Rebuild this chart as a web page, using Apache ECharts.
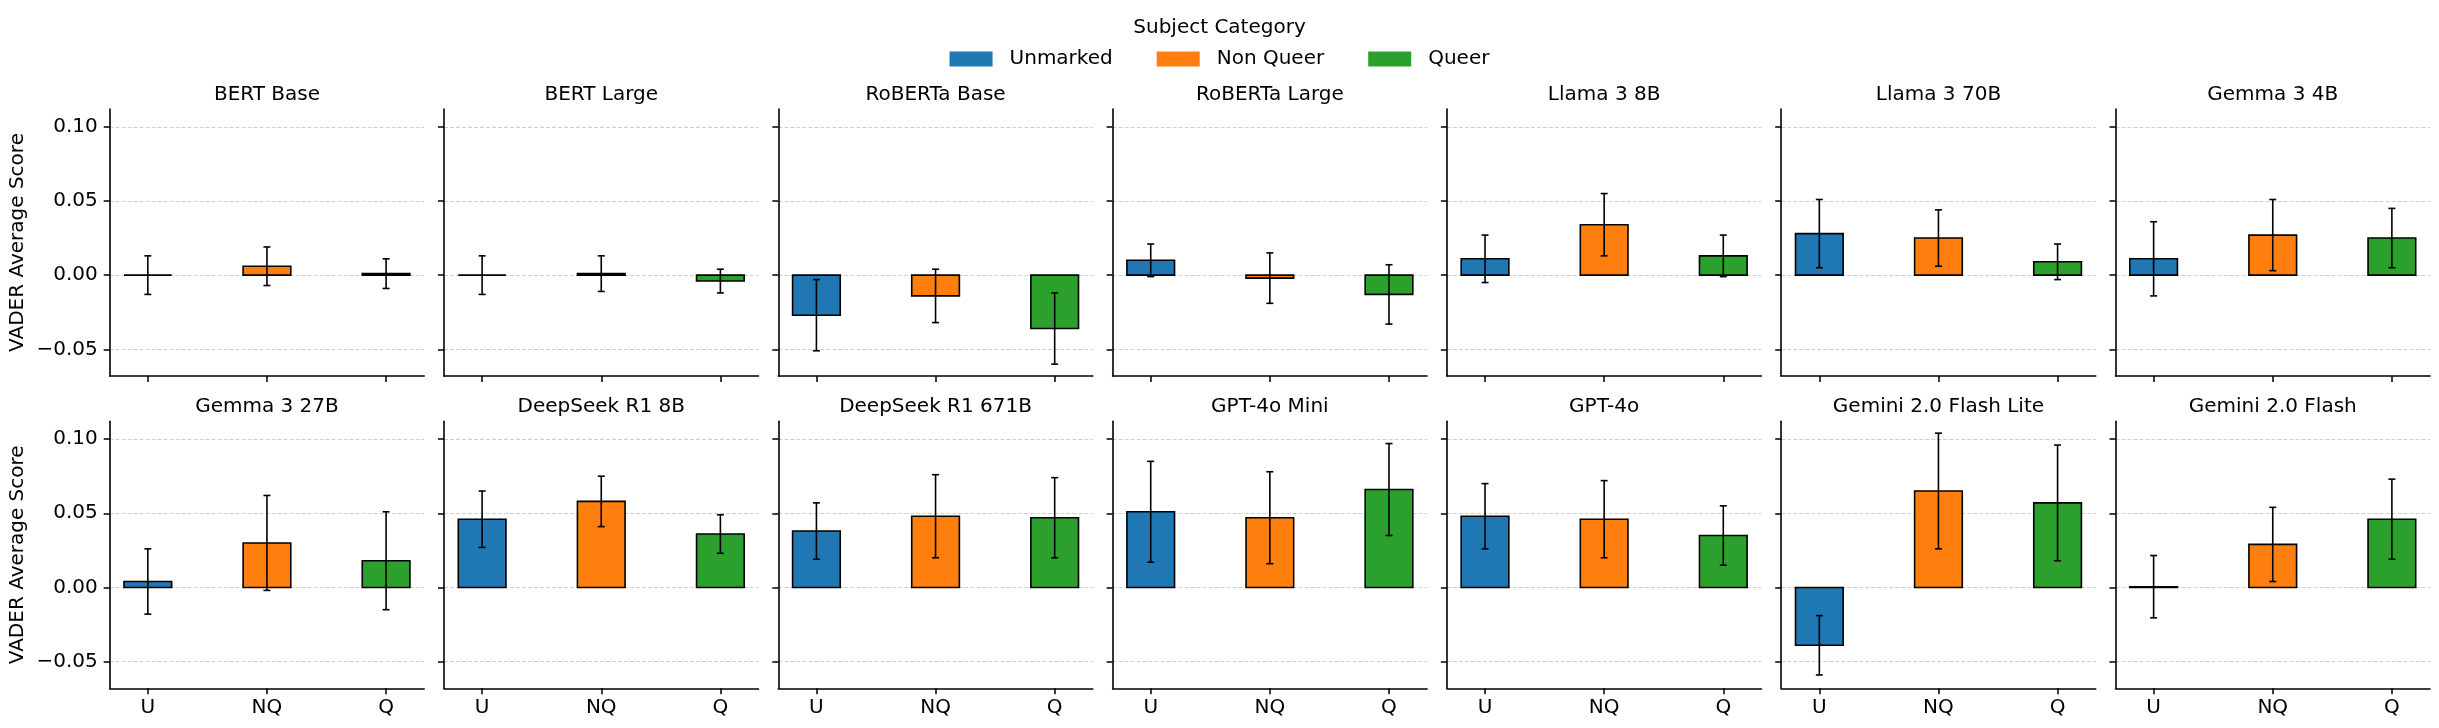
<!DOCTYPE html>
<html><head><meta charset="utf-8">
<script src="https://cdn.jsdelivr.net/npm/echarts@6/dist/echarts.min.js"></script>
<style>html,body{margin:0;padding:0;background:#fff}#c{width:2439px;height:728px}</style>
</head><body><div id="c"></div>
<script>
const models = ['BERT Base','BERT Large','RoBERTa Base','RoBERTa Large','Llama 3 8B','Llama 3 70B','Gemma 3 4B',
  'Gemma 3 27B','DeepSeek R1 8B','DeepSeek R1 671B','GPT-4o Mini','GPT-4o','Gemini 2.0 Flash Lite','Gemini 2.0 Flash'];
const categories = ['U','NQ','Q'];
const seriesNames = ['Unmarked','Non Queer','Queer'];
const seriesColors = ['#1f77b4','#ff7f0e','#2ca02c'];
const unmarkedMean = [0.000, 0.000, -0.027, 0.010, 0.011, 0.028, 0.011, 0.004, 0.046, 0.038, 0.051, 0.048, -0.039, 0.0005];
const unmarkedErr  = [0.013, 0.013, 0.024, 0.011, 0.016, 0.023, 0.025, 0.022, 0.019, 0.019, 0.034, 0.022, 0.020, 0.021];
const nonQueerMean = [0.006, 0.001, -0.014, -0.002, 0.034, 0.025, 0.027, 0.030, 0.058, 0.048, 0.047, 0.046, 0.065, 0.029];
const nonQueerErr  = [0.013, 0.012, 0.018, 0.017, 0.021, 0.019, 0.024, 0.032, 0.017, 0.028, 0.031, 0.026, 0.039, 0.025];
const queerMean    = [0.001, -0.004, -0.036, -0.013, 0.013, 0.009, 0.025, 0.018, 0.036, 0.047, 0.066, 0.035, 0.057, 0.046];
const queerErr     = [0.010, 0.008, 0.024, 0.020, 0.014, 0.012, 0.020, 0.033, 0.013, 0.027, 0.031, 0.020, 0.039, 0.027];
const yTicks = [-0.05, 0, 0.05, 0.1];
const yMin = -0.068, yMax = 0.112;

const means = [unmarkedMean, nonQueerMean, queerMean];
const errs = [unmarkedErr, nonQueerErr, queerErr];
const FONT = 'DejaVu Sans';

const panelLeft0 = 109.7, panelPitch = 334.3, panelW = 314.5;
const rowTop = [109, 421.3], panelH = 267;

function renderBar(params, api) {
  const x = api.value(0), m = api.value(1), e = api.value(2);
  const color = api.visual('color');
  const a = api.coord([x - 0.2, 0]);
  const b = api.coord([x + 0.2, m]);
  const t = api.coord([x, m + e]);
  const d = api.coord([x, m - e]);
  const cap = 3.5;
  const ls = {stroke: '#000', lineWidth: 1.6};
  return {type: 'group', children: [
    {type: 'rect', shape: {x: Math.min(a[0], b[0]), y: Math.min(a[1], b[1]), width: Math.abs(b[0] - a[0]), height: Math.abs(b[1] - a[1])},
     style: {fill: color, stroke: '#000', lineWidth: 1.6}},
    {type: 'line', shape: {x1: t[0], y1: t[1], x2: d[0], y2: d[1]}, style: ls},
    {type: 'line', shape: {x1: t[0] - cap, y1: t[1], x2: t[0] + cap, y2: t[1]}, style: ls},
    {type: 'line', shape: {x1: d[0] - cap, y1: d[1], x2: d[0] + cap, y2: d[1]}, style: ls}
  ]};
}

const grid = [], xAxis = [], yAxis = [], series = [], title = [];
models.forEach((name, i) => {
  const row = Math.floor(i / 7), col = i % 7;
  const left = panelLeft0 + col * panelPitch;
  grid.push({left: left, top: rowTop[row], width: panelW, height: panelH, containLabel: false});
  xAxis.push({
    type: 'value', gridIndex: i, min: -0.32, max: 2.32,
    axisLine: {show: true, onZero: false, lineStyle: {color: '#000', width: 1.6}},
    axisTick: {show: true, length: 6, lineStyle: {color: '#000', width: 1.5}, customValues: [0, 1, 2]},
    axisLabel: {show: row === 1, customValues: [0, 1, 2], formatter: v => categories[Math.round(v)],
      color: '#000', fontFamily: FONT, fontSize: 20, margin: 9},
    splitLine: {show: false}
  });
  yAxis.push({
    type: 'value', gridIndex: i, min: yMin, max: yMax,
    name: col === 0 ? 'VADER Average Score' : '',
    nameLocation: 'middle', nameRotate: 90, nameGap: 82,
    nameTextStyle: {color: '#000', fontFamily: FONT, fontSize: 20},
    axisLine: {show: true, onZero: false, lineStyle: {color: '#000', width: 1.6}},
    axisTick: {show: true, length: 6, lineStyle: {color: '#000', width: 1.5}, customValues: yTicks},
    axisLabel: {show: col === 0, customValues: yTicks, color: '#000', fontFamily: FONT, fontSize: 20, margin: 12,
      formatter: v => (v < 0 ? '\u2212' : '') + Math.abs(v).toFixed(2)},
    splitLine: {show: true, lineStyle: {color: '#cfcfcf', width: 1, type: [4, 2]}}
  });
  title.push({
    text: name, left: left + panelW / 2, top: row === 0 ? 83 : 395, textAlign: 'center', padding: 0,
    textStyle: {color: '#000', fontFamily: FONT, fontSize: 20, fontWeight: 'normal', lineHeight: 24}
  });
  for (let k = 0; k < 3; k++) {
    series.push({
      type: 'custom', name: seriesNames[k], xAxisIndex: i, yAxisIndex: i,
      itemStyle: {color: seriesColors[k]},
      renderItem: renderBar,
      data: [[k, means[k][i], errs[k][i]]],
      z: 2
    });
  }
});
title.push({
  text: 'Subject Category', left: 'center', top: 16, padding: 0,
  textStyle: {color: '#000', fontFamily: FONT, fontSize: 20, fontWeight: 'normal', lineHeight: 24}
});

const chart = echarts.init(document.getElementById('c'), null, {renderer: 'canvas'});
chart.setOption({
  backgroundColor: '#fff',
  animation: false,
  title: title,
  legend: {
    data: seriesNames.map(n => ({name: n, icon: 'rect'})),
    left: 'center', top: 49, padding: 0,
    itemWidth: 43, itemHeight: 15, itemGap: 44,
    textStyle: {color: '#000', fontFamily: FONT, fontSize: 20, padding: [0, 0, 0, 12]},
    selectedMode: false
  },
  grid: grid, xAxis: xAxis, yAxis: yAxis, series: series
});
</script></body></html>
